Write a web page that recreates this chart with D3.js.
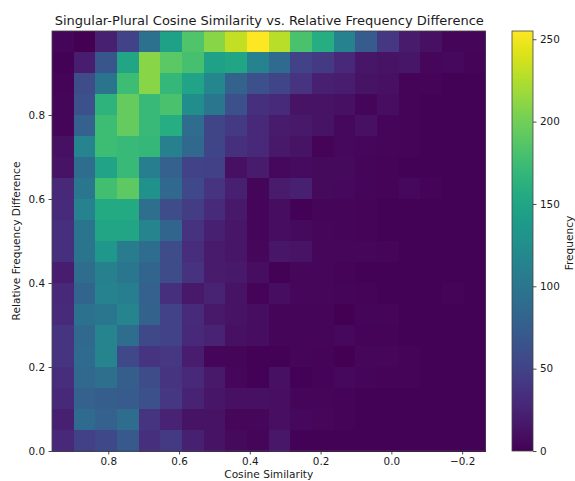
<!DOCTYPE html>
<html><head><meta charset="utf-8">
<script src="https://d3js.org/d3.v7.min.js"></script>
<style>html,body{margin:0;padding:0;background:#fff;overflow:hidden}svg{display:block}text{font-family:"DejaVu Sans",sans-serif;fill:#1a1a1a}</style>
</head><body><svg id="c" width="575" height="481"></svg>
<script>
const title = "Singular-Plural Cosine Similarity vs. Relative Frequency Difference";
const xLabel = "Cosine Similarity", yLabel = "Relative Frequency Difference", cLabel = "Frequency";
const xTicks = [0.8,0.6,0.4,0.2,0.0,-0.2];
const yTicks = [0,0.2,0.4,0.6,0.8];
const cTicks = [0,50,100,150,200,250];
const xRange = [0.959,-0.266], yRange = [0,1], cMax = 255;
// rows listed from top (relative difference near 1) to bottom; columns from high to low similarity
const row19=[3,0,22,50,95,145,185,210,232,255,228,182,158,113,72,40,18,10,3,3];
const row18=[1,20,68,150,210,190,180,145,150,112,88,50,42,28,14,12,14,4,5,2];
const row17=[2,58,98,175,210,170,148,118,80,62,52,38,22,20,12,10,2,2,1,1];
const row16=[3,62,165,195,172,182,125,100,62,35,30,12,12,10,3,8,2,1,1,1];
const row15=[3,78,175,195,172,158,90,52,42,28,18,16,12,5,10,3,2,1,1,1];
const row14=[10,115,175,172,170,110,85,52,35,28,16,12,2,5,4,3,2,1,1,1];
const row13=[12,90,148,172,108,78,50,48,10,18,5,7,6,6,3,2,1,1,1,1];
const row12=[28,100,178,192,128,85,55,38,22,3,18,22,6,5,3,2,5,2,1,1];
const row11=[30,112,155,155,92,58,45,30,16,3,8,1,3,3,2,1,1,1,1,1];
const row10=[35,98,150,150,115,82,36,22,14,3,8,6,4,3,2,1,1,1,1,1];
const row9=[35,98,135,105,90,58,32,18,14,4,14,12,4,4,4,3,1,1,1,1];
const row8=[20,90,110,100,82,58,36,18,16,8,1,4,4,2,1,1,1,1,1,1];
const row7=[28,82,112,108,78,35,16,24,12,2,8,4,4,3,2,1,1,1,2,1];
const row6=[30,95,100,115,80,50,30,16,12,8,3,3,3,0,3,3,1,1,1,1];
const row5=[38,85,115,90,55,50,28,24,10,8,3,3,3,5,2,2,1,1,1,1];
const row4=[38,88,115,55,38,40,20,3,3,1,1,3,2,0,4,4,2,1,1,1];
const row3=[32,85,92,75,58,38,28,16,4,1,10,1,2,5,3,2,2,1,1,1];
const row2=[28,78,75,72,62,40,24,14,10,10,9,3,3,2,1,1,1,1,1,1];
const row1=[22,88,78,90,38,24,12,12,4,4,9,5,4,2,1,1,1,1,1,1];
const row0=[28,48,55,70,35,42,22,12,6,3,15,1,1,1,1,1,1,1,1,1];
const rows=[row19,row18,row17,row16,row15,row14,row13,row12,row11,row10,row9,row8,row7,row6,row5,row4,row3,row2,row1,row0];

const svg=d3.select("#c");
const L=52,R=485.5,T=31,B=451,CL=512,CR=533;
const x=d3.scaleLinear().domain(xRange).range([L,R]);
const y=d3.scaleLinear().domain(yRange).range([B,T]);
const col=d3.scaleSequential(d3.interpolateViridis).domain([0,cMax]);
const colBand=d3.scaleBand().domain(d3.range(rows[0].length)).range([L,R]);
const rowBand=d3.scaleBand().domain(d3.range(rows.length)).range([T,B]);

const cells=rows.flatMap((r,i)=>r.map((v,j)=>({i,j,v})));
svg.append("g").attr("shape-rendering","crispEdges").selectAll("rect").data(cells).join("rect")
  .attr("x",d=>colBand(d.j)).attr("y",d=>rowBand(d.i))
  .attr("width",colBand.bandwidth()+0.5).attr("height",rowBand.bandwidth()+0.5)
  .attr("fill",d=>col(d.v));

function style(g){
  g.selectAll("text").style("font-family",'"DejaVu Sans",sans-serif').style("font-size","10.4px").attr("fill","#1a1a1a");
  g.selectAll("line").attr("stroke","#222").attr("stroke-width",0.8);
  g.select(".domain").remove();
}
const fmt=d=>d3.format(".1f")(d).replace("-","\u2212");
svg.append("g").attr("transform",`translate(0,${B})`)
  .call(d3.axisBottom(x).tickValues(xTicks).tickFormat(fmt).tickSize(3.5).tickPadding(3.5)).call(style);
svg.append("g").attr("transform",`translate(${L},0)`)
  .call(d3.axisLeft(y).tickValues(yTicks).tickFormat(fmt).tickSize(3.5).tickPadding(3.5)).call(style);
svg.append("rect").attr("x",L).attr("y",T).attr("width",R-L).attr("height",B-T)
  .attr("fill","none").attr("stroke","#444").attr("stroke-width",0.8);

svg.append("text").attr("x",(L+R)/2+.5).attr("y",25).attr("text-anchor","middle").style("font-size","13px").text(title);
svg.append("text").attr("x",(L+R)/2).attr("y",478).attr("text-anchor","middle").style("font-size","10.6px").text(xLabel);
svg.append("text").attr("transform",`translate(20,${(T+B)/2}) rotate(-90)`).attr("text-anchor","middle").style("font-size","10.6px").text(yLabel);

// colour bar
const cy=d3.scaleLinear().domain([0,cMax]).range([B,T]);
const defs=svg.append("defs");
const grad=defs.append("linearGradient").attr("id","vir").attr("x1",0).attr("x2",0).attr("y1",1).attr("y2",0);
d3.range(0,1.0001,0.05).forEach(t=>grad.append("stop").attr("offset",t).attr("stop-color",d3.interpolateViridis(t)));
svg.append("rect").attr("x",CL).attr("y",T).attr("width",CR-CL).attr("height",B-T).attr("fill","url(#vir)")
  .attr("stroke","#444").attr("stroke-width",0.8);
svg.append("g").attr("transform",`translate(${CR},0)`)
  .call(d3.axisRight(cy).tickValues(cTicks).tickSize(3.5).tickPadding(3.5)).call(style);
svg.append("text").attr("transform",`translate(573,${(T+B)/2+2}) rotate(-90)`).attr("text-anchor","middle").style("font-size","10.6px").text(cLabel);
</script></body></html>
